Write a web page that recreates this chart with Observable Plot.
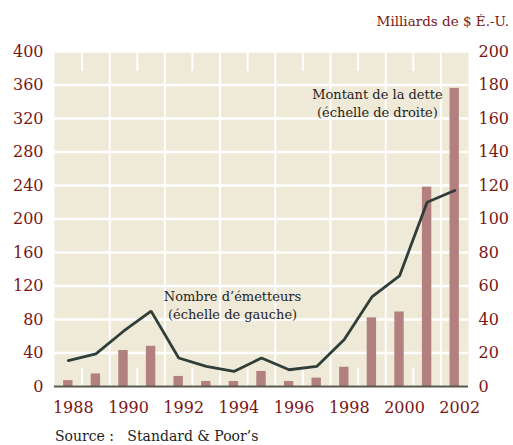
<!DOCTYPE html>
<html>
<head>
<meta charset="utf-8">
<script src="https://cdn.jsdelivr.net/npm/d3@7"></script>
<script src="https://cdn.jsdelivr.net/npm/@observablehq/plot@0.6"></script>
<style>
  html, body { margin: 0; padding: 0; background: #ffffff; }
  #wrap { position: relative; width: 513px; height: 445px; font-family: "DejaVu Serif", serif; }
  #title { position: absolute; right: 4px; top: 12px; font-size: 13.5px; color: #7a1616; white-space: pre; line-height: 18px; }
  #chart { position: absolute; left: 0; top: 30px; }
  #source { position: absolute; left: 55px; top: 427px; font-size: 14px; color: #1e1e1e; white-space: pre; line-height: 18px; }
</style>
</head>
<body>
<div id="wrap">
  <div id="title">Milliards de $ É.-U.</div>
  <div id="chart"></div>
  <div id="source">Source :   Standard &amp; Poor’s</div>
</div>
<script>
// Data
const years   = [1988, 1989, 1990, 1991, 1992, 1993, 1994, 1995, 1996, 1997, 1998, 1999, 2000, 2001, 2002];
const issuers = [31, 39, 66, 90, 34, 24, 18, 34, 20, 24, 56, 107, 132, 220, 234];      // left scale
const debt    = [3.5, 7.5, 21.5, 24, 6, 3, 3, 9, 3, 5, 11.5, 41, 44.5, 119, 178];      // right scale (milliards $)
const leftTicks  = [0, 40, 80, 120, 160, 200, 240, 280, 320, 360, 400];
const rightTicks = [0, 20, 40, 60, 80, 100, 120, 140, 160, 180, 200];
const xTickYears = [1988, 1990, 1992, 1994, 1996, 1998, 2000, 2002];
const annotations = [
  {year: 1993.95, value: 98,  text: "Nombre d’émetteurs\n(échelle de gauche)"},
  {year: 1999.2,  value: 339, text: "Montant de la dette\n(échelle de droite)"}
];

const ratio = 400 / 200; // left units per right unit
const rows = years.map((y, i) => ({year: y, issuers: issuers[i], debt: debt[i]}));
const fullGrid  = years.filter(y => y % 2 === 1 && y < 2002).map(y => y + 0.5);
const shortGrid = years.filter(y => y % 2 === 0 && y < 2002).map(y => y + 0.5);

const red = "#7a1616";
const chart = Plot.plot({
  width: 513,
  height: 390,
  marginTop: 21,
  marginBottom: 34,
  marginLeft: 54,
  marginRight: 45,
  x: {domain: [years[0] - 0.5, years[years.length - 1] + 0.5]},
  y: {domain: [0, 400]},
  style: {fontFamily: "DejaVu Serif, serif", background: "transparent", overflow: "visible"},
  marks: [
    Plot.frame({fill: "#efe9d8", stroke: "none"}),
    Plot.ruleY(leftTicks, {stroke: "#ffffff", strokeWidth: 2.5}),
    Plot.ruleX(fullGrid, {stroke: "#ffffff", strokeWidth: 2}),
    Plot.ruleX(shortGrid, {y1: 376, y2: 400, stroke: "#ffffff", strokeWidth: 2}),
    Plot.ruleX(shortGrid, {y1: 0, y2: 22, stroke: "#ffffff", strokeWidth: 2}),
    Plot.rect(rows, {x1: d => d.year - 0.17, x2: d => d.year + 0.17, y1: 0, y2: d => d.debt * ratio, fill: "#b38080"}),
    Plot.line(rows, {x: "year", y: "issuers", stroke: "#2f3e39", strokeWidth: 2.8, strokeLinejoin: "miter"}),
    Plot.ruleY([0], {stroke: "#58584f", strokeWidth: 2}),
    Plot.text(annotations, {x: "year", y: "value", text: "text", fontSize: 13, fill: "#1e1e1e", lineHeight: 1.38}),
    Plot.axisY(leftTicks, {anchor: "left", tickSize: 0, tickPadding: 11, fontSize: 16, fill: red, label: null}),
    Plot.axisY(rightTicks.map(v => v * ratio), {anchor: "right", tickSize: 0, tickPadding: 10, fontSize: 16, fill: red, label: null, tickFormat: d => String(d / ratio)}),
    Plot.axisX(xTickYears, {anchor: "bottom", tickSize: 0, tickPadding: 15, dx: 5, fontSize: 16, fill: red, label: null, tickFormat: d => String(d)})
  ]
});
document.getElementById("chart").appendChild(chart);
</script>
</body>
</html>
